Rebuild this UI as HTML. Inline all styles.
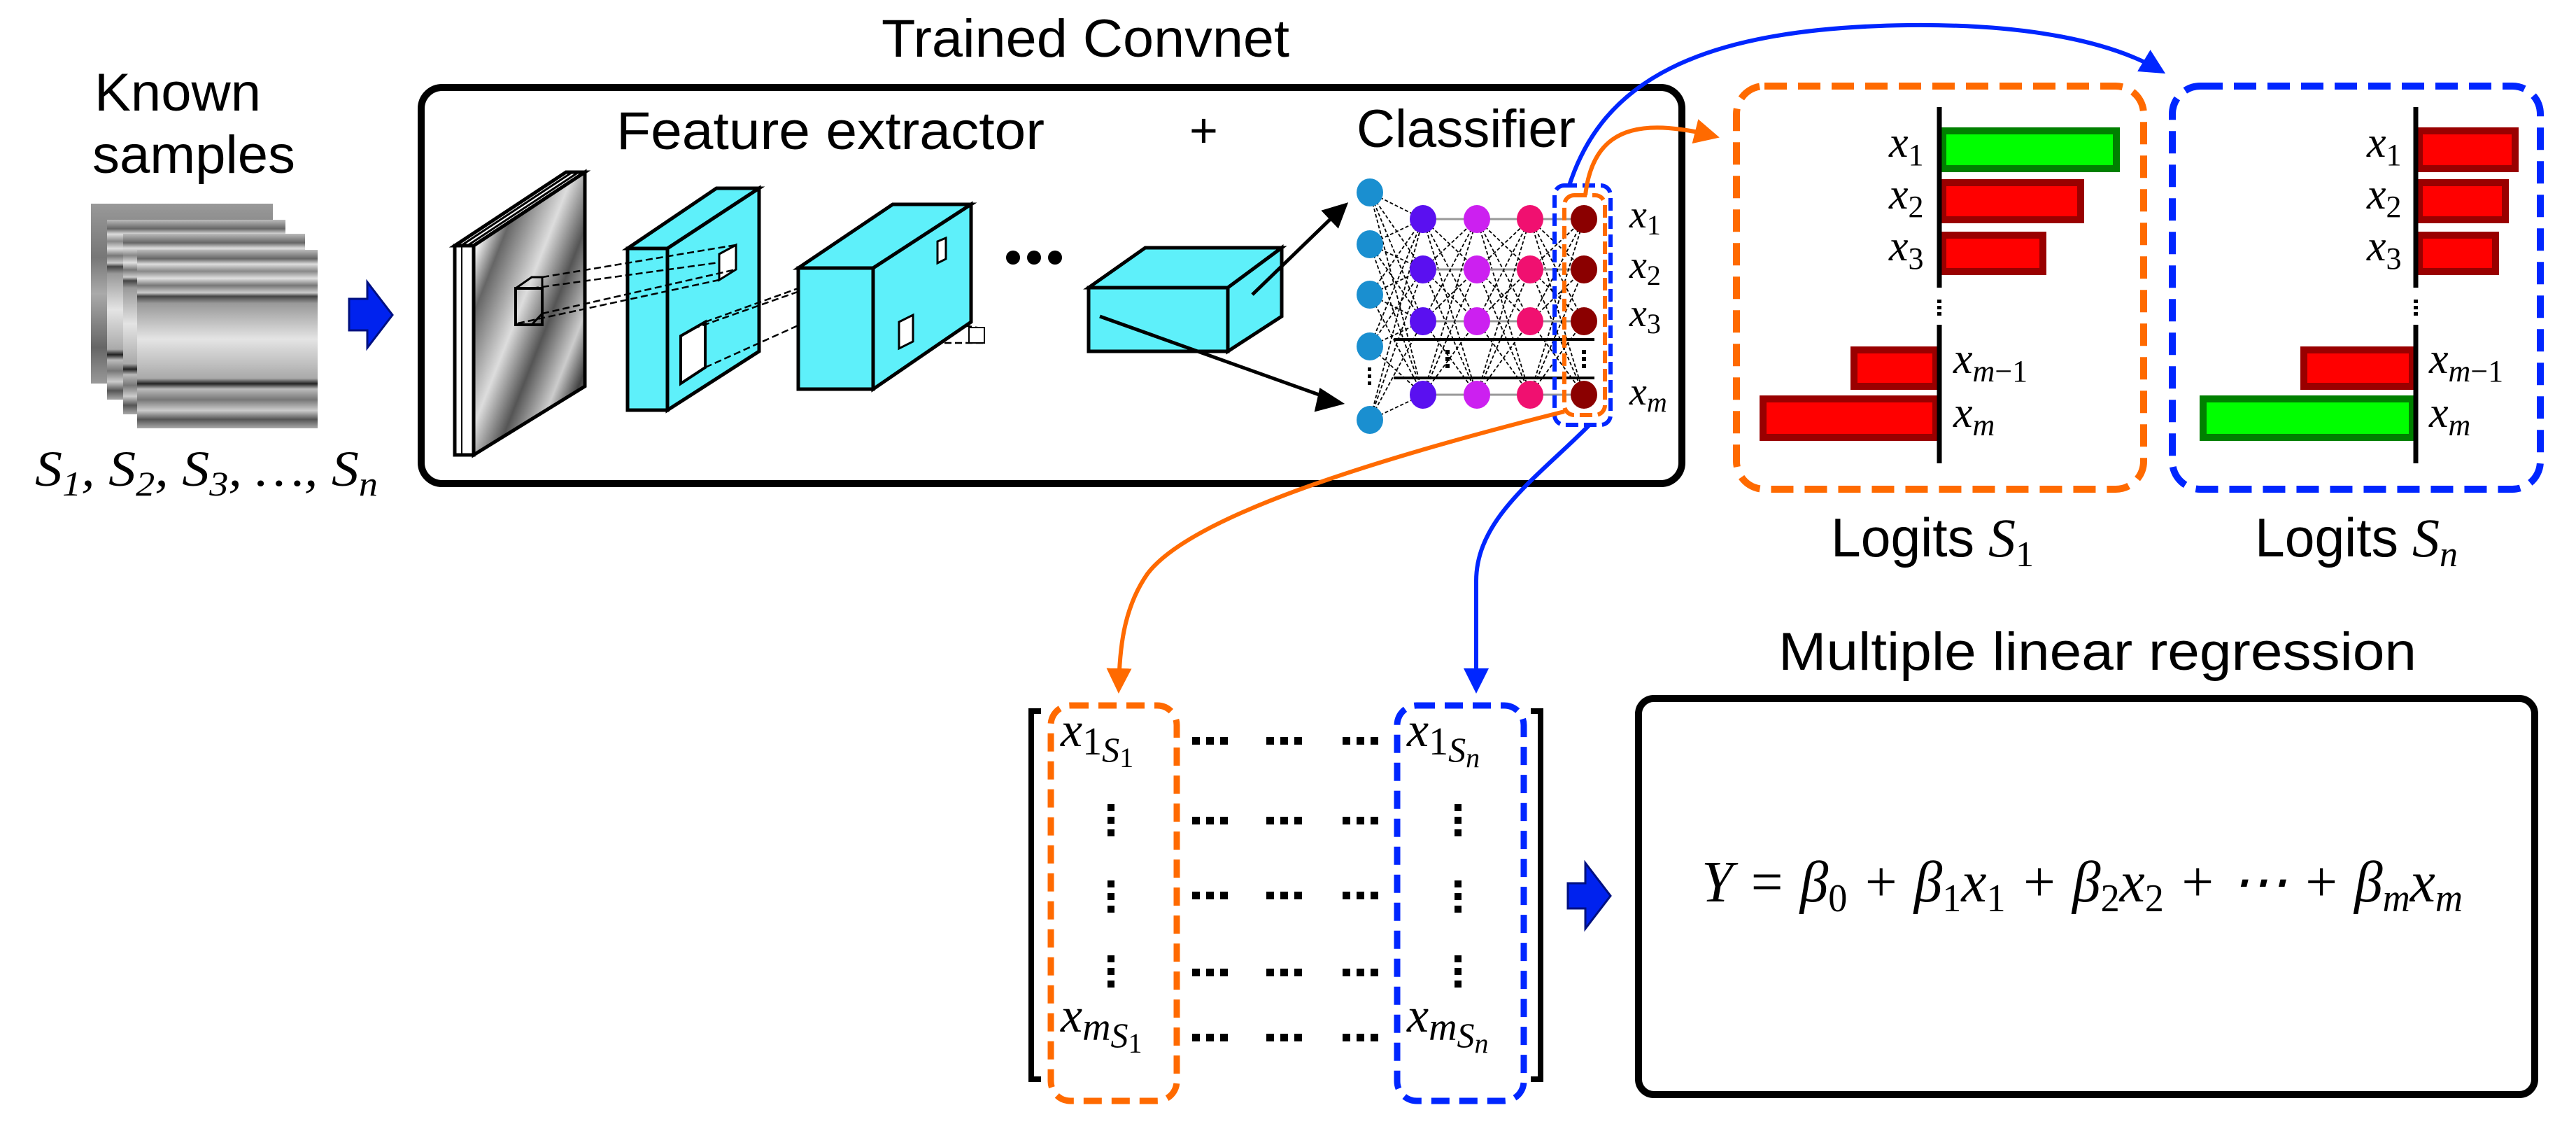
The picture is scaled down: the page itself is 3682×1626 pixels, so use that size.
<!DOCTYPE html>
<html><head><meta charset="utf-8"><style>html,body{margin:0;padding:0;background:#fff}svg{display:block}</style></head>
<body>
<svg id="s" xmlns="http://www.w3.org/2000/svg" width="3682" height="1626" viewBox="0 0 3682 1626">
<defs>
<linearGradient id="img" x1="0" y1="0" x2="0" y2="1">
<stop offset="0" stop-color="#bbb"/><stop offset=".05" stop-color="#666"/><stop offset=".08" stop-color="#ddd"/><stop offset=".12" stop-color="#888"/><stop offset=".16" stop-color="#e0e0e0"/><stop offset=".2" stop-color="#777"/><stop offset=".24" stop-color="#ccc"/><stop offset=".26" stop-color="#444"/><stop offset=".3" stop-color="#999"/><stop offset=".5" stop-color="#e4e4e4"/><stop offset=".72" stop-color="#aaa"/><stop offset=".75" stop-color="#222"/><stop offset=".78" stop-color="#bbb"/><stop offset=".84" stop-color="#777"/><stop offset=".9" stop-color="#ccc"/><stop offset=".95" stop-color="#555"/><stop offset="1" stop-color="#aaa"/>
</linearGradient>
<linearGradient id="noise" x1="0" y1="0" x2="0" y2="1">
<stop offset="0" stop-color="#999"/><stop offset=".3" stop-color="#777"/><stop offset=".5" stop-color="#aaa"/><stop offset=".8" stop-color="#666"/><stop offset="1" stop-color="#999"/>
</linearGradient>
<linearGradient id="slab" x1="0" y1="0" x2="1" y2="1">
<stop offset="0" stop-color="#999"/><stop offset=".15" stop-color="#eee"/><stop offset=".25" stop-color="#666"/><stop offset=".45" stop-color="#ddd"/><stop offset=".6" stop-color="#555"/><stop offset=".75" stop-color="#ccc"/><stop offset=".85" stop-color="#444"/><stop offset="1" stop-color="#bbb"/>
</linearGradient>
<marker id="ao" markerWidth="6" markerHeight="6" refX="5" refY="3" orient="auto" markerUnits="strokeWidth"><path d="M0,0 L6,3 L0,6 z" fill="#ff6a00"/></marker>
<marker id="ab" markerWidth="6" markerHeight="6" refX="5" refY="3" orient="auto" markerUnits="strokeWidth"><path d="M0,0 L6,3 L0,6 z" fill="#0026ff"/></marker>
</defs>

<g font-family="Liberation Sans, sans-serif" font-size="76" fill="#000">
<text x="135" y="158" textLength="238" lengthAdjust="spacingAndGlyphs">Known</text>
<text x="132" y="247" textLength="290" lengthAdjust="spacingAndGlyphs">samples</text>
</g>
<rect x="130" y="291" width="260" height="257" fill="url(#noise)"/>
<rect x="153" y="314" width="255" height="257" fill="url(#img)"/>
<rect x="176" y="334" width="260" height="258" fill="url(#img)"/>
<rect x="196" y="357" width="258" height="255" fill="url(#img)"/>
<text x="50" y="694" font-family="Liberation Serif, serif" font-style="italic" font-size="72" textLength="490" lengthAdjust="spacingAndGlyphs">S<tspan font-size="50" dy="14">1</tspan><tspan dy="-14">, S</tspan><tspan font-size="50" dy="14">2</tspan><tspan dy="-14">, S</tspan><tspan font-size="50" dy="14">3</tspan><tspan dy="-14">, …, S</tspan><tspan font-size="50" dy="14">n</tspan></text>
<path d="M499,427 H525 V403 L561,450 L525,497 V472 H499 Z" fill="#0022ee" stroke="#001080" stroke-width="3"/>

<text x="1260" y="81" font-family="Liberation Sans, sans-serif" font-size="76" textLength="583" lengthAdjust="spacingAndGlyphs">Trained Convnet</text>
<rect x="602" y="125" width="1802" height="566" rx="30" fill="none" stroke="#000" stroke-width="10"/>
<g font-family="Liberation Sans, sans-serif" font-size="76">
<text x="881" y="213" textLength="612" lengthAdjust="spacingAndGlyphs">Feature extractor</text>
<text x="1700" y="210" font-size="70">+</text>
<text x="1939" y="210" textLength="313" lengthAdjust="spacingAndGlyphs">Classifier</text>
</g>

<polygon points="650,351 809,246 836,246 677,351" fill="#fff" stroke="#000" stroke-width="5"/>
<line x1="659" y1="351" x2="818" y2="246" stroke="#000" stroke-width="3"/>
<line x1="668" y1="351" x2="827" y2="246" stroke="#000" stroke-width="3"/>
<rect x="650" y="351" width="27" height="299" fill="#fff" stroke="#000" stroke-width="5"/>
<line x1="660" y1="351" x2="660" y2="650" stroke="#000" stroke-width="2"/>
<polygon points="677,351 836,246 836,552 677,650" fill="url(#slab)" stroke="#000" stroke-width="5"/>
<rect x="737" y="412" width="38" height="52" fill="none" stroke="#000" stroke-width="4"/>
<polyline points="737,412 760,396 775,396 775,448 760,464" fill="none" stroke="#000" stroke-width="3"/>

<polygon points="897,355 1024,269 1085,269 954,355" fill="#5ef0fa" stroke="#000" stroke-width="5"/>
<polygon points="954,355 1085,269 1085,502 954,586" fill="#5ef0fa" stroke="#000" stroke-width="5"/>
<rect x="897" y="355" width="57" height="231" fill="#5ef0fa" stroke="#000" stroke-width="5"/>
<polygon points="1028,363 1052,350 1052,385 1028,400" fill="#fff" stroke="#000" stroke-width="3"/>
<polygon points="973,480 1008,460 1008,525 973,548" fill="#fff" stroke="#000" stroke-width="4"/>
<g stroke="#000" stroke-width="2.5" stroke-dasharray="10,5" fill="none">
<line x1="775" y1="396" x2="1052" y2="350"/><line x1="760" y1="412" x2="1028" y2="375"/>
<line x1="775" y1="448" x2="1052" y2="385"/><line x1="740" y1="462" x2="1028" y2="400"/>
<line x1="1008" y1="460" x2="1340" y2="340"/><line x1="990" y1="470" x2="1330" y2="350"/>
<line x1="1008" y1="525" x2="1340" y2="375"/>
<line x1="1320" y1="455" x2="1408" y2="470"/><line x1="1320" y1="490" x2="1408" y2="490"/>
</g>
<polygon points="1141,383 1276,292 1388,292 1248,383" fill="#5ef0fa" stroke="#000" stroke-width="5"/>
<polygon points="1248,383 1388,292 1388,460 1248,556" fill="#5ef0fa" stroke="#000" stroke-width="5"/>
<rect x="1141" y="383" width="107" height="173" fill="#5ef0fa" stroke="#000" stroke-width="5"/>
<polygon points="1340,345 1352,340 1352,370 1340,376" fill="#fff" stroke="#000" stroke-width="3"/>
<polygon points="1285,460 1305,450 1305,488 1285,498" fill="#fff" stroke="#000" stroke-width="3"/>
<rect x="1385" y="468" width="22" height="22" fill="#fff" stroke="#000" stroke-width="2"/>
<g fill="#000"><circle cx="1448" cy="368" r="10"/><circle cx="1478" cy="368" r="10"/><circle cx="1508" cy="368" r="10"/></g>
<polygon points="1556,411 1637,354 1832,354 1755,411" fill="#5ef0fa" stroke="#000" stroke-width="5"/>
<polygon points="1755,411 1832,354 1832,452 1755,502" fill="#5ef0fa" stroke="#000" stroke-width="5"/>
<rect x="1556" y="411" width="199" height="91" fill="#5ef0fa" stroke="#000" stroke-width="5"/>
<g stroke="#000" stroke-width="5" fill="#000">
<line x1="1790" y1="421" x2="1915" y2="300"/><path d="M1923,293 L1893,302 L1912,322 Z"/>
<line x1="1572" y1="452" x2="1905" y2="571"/><path d="M1916,576 L1888,558 L1882,585 Z"/>
</g>

<g id="net"></g>
<g stroke="#000" stroke-width="4"><line x1="1992" y1="485" x2="2279" y2="485"/><line x1="1992" y1="540" x2="2279" y2="540"/></g>
<g fill="#000"><rect x="2066" y="500" width="6" height="6"/><rect x="2066" y="510" width="6" height="6"/><rect x="2066" y="520" width="6" height="6"/>
<rect x="2261" y="500" width="6" height="6"/><rect x="2261" y="510" width="6" height="6"/><rect x="2261" y="520" width="6" height="6"/>
<rect x="1955" y="525" width="5" height="5"/><rect x="1955" y="535" width="5" height="5"/><rect x="1955" y="545" width="5" height="5"/></g>
<g font-family="Liberation Serif, serif" font-style="italic" font-size="56">
<text x="2329" y="325">x<tspan font-size="40" font-style="normal" dy="10">1</tspan></text>
<text x="2329" y="397">x<tspan font-size="40" font-style="normal" dy="10">2</tspan></text>
<text x="2329" y="466">x<tspan font-size="40" font-style="normal" dy="10">3</tspan></text>
<text x="2329" y="578">x<tspan font-size="40" dy="10">m</tspan></text>
</g>
<rect x="2222" y="265" width="80" height="342" rx="14" fill="none" stroke="#0026ff" stroke-width="6" stroke-dasharray="18,8"/>
<rect x="2236" y="279" width="58" height="314" rx="14" fill="none" stroke="#ff6a00" stroke-width="6" stroke-dasharray="18,8"/>

<g fill="none" stroke-width="6">
<path d="M2266,279 C2275,200 2320,178 2385,183 C2420,186 2440,192 2452,195" stroke="#ff6a00" marker-end="url(#ao)"/>
<path d="M2243,265 C2290,120 2420,40 2727,36 C2900,34 3020,60 3090,102" stroke="#0026ff" marker-end="url(#ab)"/>
<path d="M2236,588 C1950,660 1700,740 1640,820 C1605,870 1600,930 1599,985" stroke="#ff6a00" marker-end="url(#ao)"/>
<path d="M2272,607 C2200,680 2110,740 2110,830 L2110,985" stroke="#0026ff" marker-end="url(#ab)"/>
</g>

<rect x="2482" y="123" width="582" height="576" rx="40" fill="none" stroke="#ff6a00" stroke-width="10" stroke-dasharray="32,16"/>
<rect x="3105" y="123" width="526" height="576" rx="40" fill="none" stroke="#0026ff" stroke-width="10" stroke-dasharray="32,16"/>
<g stroke-width="10">
<rect x="2777" y="187" width="248" height="54" fill="#00ff00" stroke="#008000"/>
<rect x="2777" y="261" width="197" height="53" fill="#ff0000" stroke="#990000"/>
<rect x="2777" y="336" width="143" height="52" fill="#ff0000" stroke="#990000"/>
<rect x="2650" y="500" width="117" height="52" fill="#ff0000" stroke="#990000"/>
<rect x="2520" y="570" width="247" height="55" fill="#ff0000" stroke="#990000"/>
<rect x="3458" y="187" width="137" height="54" fill="#ff0000" stroke="#990000"/>
<rect x="3458" y="261" width="123" height="53" fill="#ff0000" stroke="#990000"/>
<rect x="3458" y="336" width="109" height="52" fill="#ff0000" stroke="#990000"/>
<rect x="3293" y="500" width="155" height="52" fill="#ff0000" stroke="#990000"/>
<rect x="3149" y="570" width="299" height="55" fill="#00ff00" stroke="#008000"/>
</g>
<g stroke="#000" stroke-width="7">
<line x1="2772" y1="153" x2="2772" y2="411"/><line x1="2772" y1="464" x2="2772" y2="662"/>
<line x1="3453" y1="153" x2="3453" y2="411"/><line x1="3453" y1="464" x2="3453" y2="662"/>
</g>
<g fill="#000"><rect x="2769" y="428" width="6" height="5"/><rect x="2769" y="437" width="6" height="5"/><rect x="2769" y="446" width="6" height="5"/>
<rect x="3450" y="428" width="6" height="5"/><rect x="3450" y="437" width="6" height="5"/><rect x="3450" y="446" width="6" height="5"/></g>
<g font-family="Liberation Serif, serif" font-style="italic" font-size="62">
<text x="2700" y="224">x<tspan font-size="44" font-style="normal" dy="12">1</tspan></text>
<text x="2700" y="298">x<tspan font-size="44" font-style="normal" dy="12">2</tspan></text>
<text x="2700" y="372">x<tspan font-size="44" font-style="normal" dy="12">3</tspan></text>
<text x="2792" y="533">x<tspan font-size="44" dy="12">m</tspan><tspan font-size="44" font-style="normal">−1</tspan></text>
<text x="2792" y="610">x<tspan font-size="44" dy="12">m</tspan></text>
<text x="3383" y="224">x<tspan font-size="44" font-style="normal" dy="12">1</tspan></text>
<text x="3383" y="298">x<tspan font-size="44" font-style="normal" dy="12">2</tspan></text>
<text x="3383" y="372">x<tspan font-size="44" font-style="normal" dy="12">3</tspan></text>
<text x="3472" y="533">x<tspan font-size="44" dy="12">m</tspan><tspan font-size="44" font-style="normal">−1</tspan></text>
<text x="3472" y="610">x<tspan font-size="44" dy="12">m</tspan></text>
</g>
<g font-family="Liberation Sans, sans-serif" font-size="78">
<text x="2617" y="795"><tspan textLength="205" lengthAdjust="spacingAndGlyphs">Logits</tspan><tspan font-family="Liberation Serif, serif" font-style="italic" dx="20">S</tspan><tspan font-family="Liberation Serif, serif" font-size="52" dy="14">1</tspan></text>
<text x="3223" y="795"><tspan textLength="205" lengthAdjust="spacingAndGlyphs">Logits</tspan><tspan font-family="Liberation Serif, serif" font-style="italic" dx="20">S</tspan><tspan font-family="Liberation Serif, serif" font-style="italic" font-size="52" dy="14">n</tspan></text>
<text x="2542" y="957" font-size="76" textLength="912" lengthAdjust="spacingAndGlyphs">Multiple linear regression</text>
</g>

<path d="M1488,1016 H1474 V1542 H1488" fill="none" stroke="#000" stroke-width="8"/>
<path d="M2188,1016 H2202 V1542 H2188" fill="none" stroke="#000" stroke-width="8"/>
<rect x="1502" y="1008" width="180" height="565" rx="28" fill="none" stroke="#ff6a00" stroke-width="9" stroke-dasharray="26,14"/>
<rect x="1997" y="1008" width="181" height="565" rx="28" fill="none" stroke="#0026ff" stroke-width="9" stroke-dasharray="26,14"/>
<g font-family="Liberation Serif, serif" font-style="italic" font-size="70">
<text x="1516" y="1066">x<tspan font-size="56" font-style="normal" dy="12">1</tspan><tspan font-size="50" dy="10">S</tspan><tspan font-size="40" font-style="normal" dy="8">1</tspan></text>
<text x="2011" y="1066">x<tspan font-size="56" font-style="normal" dy="12">1</tspan><tspan font-size="50" dy="10">S</tspan><tspan font-size="40" dy="8">n</tspan></text>
<text x="1516" y="1474">x<tspan font-size="56" dy="12">m</tspan><tspan font-size="50" dy="10">S</tspan><tspan font-size="40" font-style="normal" dy="8">1</tspan></text>
<text x="2011" y="1474">x<tspan font-size="56" dy="12">m</tspan><tspan font-size="50" dy="10">S</tspan><tspan font-size="40" dy="8">n</tspan></text>
</g>
<g id="dots" fill="#000"></g>
<path d="M2241,1262 H2266 V1233 L2302,1280 L2266,1327 V1298 H2241 Z" fill="#0022ee" stroke="#001080" stroke-width="3"/>

<rect x="2342" y="998" width="1281" height="566" rx="22" fill="none" stroke="#000" stroke-width="10"/>
<text x="2432" y="1288" font-family="Liberation Serif, serif" font-style="italic" font-size="84" textLength="1088" lengthAdjust="spacingAndGlyphs">Y = β<tspan font-size="56" font-style="normal" dy="14">0</tspan><tspan dy="-14"> + β</tspan><tspan font-size="56" font-style="normal" dy="14">1</tspan><tspan dy="-14">x</tspan><tspan font-size="56" font-style="normal" dy="14">1</tspan><tspan dy="-14"> + β</tspan><tspan font-size="56" font-style="normal" dy="14">2</tspan><tspan dy="-14">x</tspan><tspan font-size="56" font-style="normal" dy="14">2</tspan><tspan dy="-14"> + ⋯ + β</tspan><tspan font-size="56" dy="14">m</tspan><tspan dy="-14">x</tspan><tspan font-size="56" dy="14">m</tspan></text>
</svg>
<script>
(function(){
var NS="http://www.w3.org/2000/svg";
var net=document.getElementById("net");
var cols=[[1958,[275,349,421,495,600],"#1a8fd0"],[2034,[313,385,459,564],"#5a10f0"],[2111,[313,385,459,564],"#cc20f0"],[2187,[313,385,459,564],"#f01070"],[2264,[313,385,459,564],"#8b0000"]];
function el(t,a){var e=document.createElementNS(NS,t);for(var k in a)e.setAttribute(k,a[k]);return e;}
for(var c=0;c<4;c++){var A=cols[c],B=cols[c+1];
 A[1].forEach(function(y1){B[1].forEach(function(y2){
  var same=(y1===y2);
  net.appendChild(el("line",{x1:A[0],y1:y1,x2:B[0],y2:y2,stroke:same?"#999":"#000","stroke-width":same?3:1.8,"stroke-dasharray":same?"":"5,3"}));
 });});}
cols.forEach(function(C){C[1].forEach(function(y){net.appendChild(el("ellipse",{cx:C[0],cy:y,rx:19,ry:20,fill:C[2]}));});});
var d=document.getElementById("dots");
[1058,1172,1279,1389,1482].forEach(function(y){[1704,1810,1919].forEach(function(x){for(var i=0;i<3;i++)d.appendChild(el("rect",{x:x+i*20,y:y-5,width:11,height:11}));});});
[1149,1258,1365].forEach(function(y){[1583,2079].forEach(function(x){for(var i=0;i<3;i++)d.appendChild(el("rect",{x:x,y:y+i*18,width:10,height:10}));});});
})();
</script>
</body></html>
